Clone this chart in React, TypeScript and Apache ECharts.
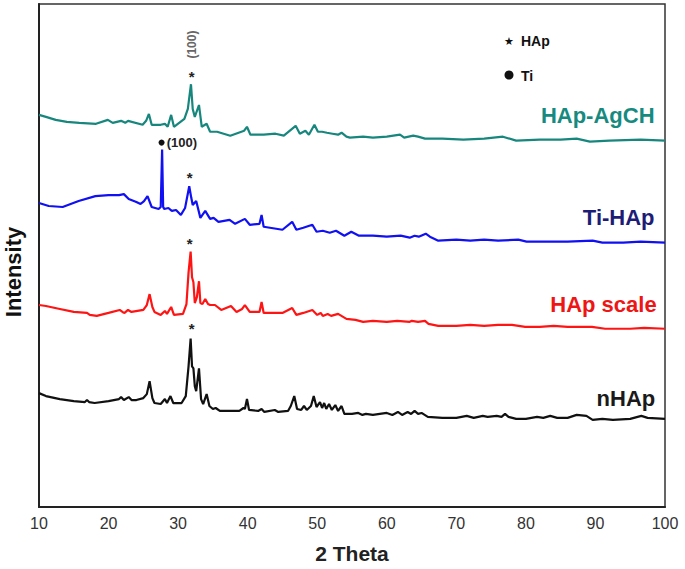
import React, { useEffect, useRef } from "react";
import * as echarts from "echarts";

// 2-theta range
const xTicks = [10, 20, 30, 40, 50, 60, 70, 80, 90, 100];

// Intensity (a.u., stacked offsets included), [2θ, intensity]
const nHAp: number[][] = [
  [10, 115], [11, 112], [13, 109], [15, 107], [16.6, 106], [16.9, 108], [17.2, 106], [18, 105], [20, 107],
  [21.5, 109], [21.8, 111], [22.2, 108], [22.9, 111], [23.3, 108], [24, 108], [25, 110], [25.5, 114],
  [25.9, 127], [26.3, 110], [26.6, 105], [27.5, 104], [28.1, 109], [28.4, 105], [28.9, 112], [29.3, 105],
  [30.5, 105], [31.1, 112], [31.5, 142], [31.8, 170], [32.0, 142], [32.2, 140], [32.4, 122], [32.6, 117],
  [33.0, 140], [33.3, 109], [33.6, 104], [34.1, 114], [34.5, 102], [35, 99], [35.4, 100], [36, 97],
  [38.8, 97], [39.4, 100], [39.6, 99], [39.9, 109], [40.2, 98], [41.5, 97], [42, 99], [42.4, 96], [43.9, 98],
  [44.4, 96], [45.8, 97], [46.2, 102], [46.7, 112], [47.1, 99], [47.7, 98], [48.1, 102], [48.5, 98],
  [49.1, 102], [49.5, 112], [49.9, 101], [50.4, 106], [50.7, 100], [51, 105], [51.3, 99], [51.7, 104],
  [52.1, 98], [52.6, 103], [53.0, 97], [53.5, 102], [53.9, 94], [55, 94], [55.9, 95], [56.5, 93], [57, 94],
  [58, 93], [59, 94], [60, 95], [60.8, 93], [61.6, 96], [62.2, 93], [63, 96], [63.5, 94], [64, 97],
  [64.5, 94], [65, 95], [65.9, 91], [68, 90], [70, 90], [71.5, 92], [72.5, 90], [73.8, 92], [74.5, 91],
  [75.8, 92], [76.5, 91], [77, 94], [77.5, 91], [78.6, 89], [80, 89], [81.6, 91], [82.5, 90], [83.5, 92],
  [84.5, 90], [86, 90], [87.3, 93], [88.7, 92], [89.6, 88], [91, 89], [92.5, 88], [95, 89], [96.6, 92],
  [97.5, 90], [100, 89],
];

const hapScale: number[][] = [
  [10, 204], [11, 203], [13, 200], [15, 197], [16.9, 196], [17.3, 194], [18.3, 193], [20, 196], [21.6, 199],
  [22, 197], [22.3, 196], [22.8, 199], [23.3, 197], [25, 199], [25.5, 204], [25.9, 215], [26.3, 202],
  [26.6, 197], [27.5, 194], [28.1, 198], [28.4, 195], [29.0, 202], [29.4, 194], [30.7, 195], [31.2, 205],
  [31.5, 237], [31.8, 258], [32.0, 232], [32.2, 227], [32.4, 206], [32.7, 212], [33.0, 228], [33.2, 206],
  [33.5, 205], [33.9, 210], [34.3, 205], [34.6, 204], [35.3, 204], [36.2, 199], [37.6, 203], [38.4, 197],
  [39.2, 200], [39.6, 204], [40.3, 197], [41.7, 197], [42.0, 207], [42.3, 196], [45, 196], [46.4, 201],
  [47, 194], [48, 196], [49.3, 199], [50, 194], [50.5, 196], [50.8, 193], [51.5, 195], [52, 193], [53, 195],
  [54.2, 190], [55.5, 189], [56.6, 187], [58, 188], [60, 187], [61.5, 188], [63.3, 187], [63.6, 188],
  [64.5, 187], [65.5, 188], [66, 185], [67.4, 183], [70, 183], [72, 184], [74, 183], [76, 184], [78, 184],
  [79.9, 182], [82, 182], [84, 183], [86, 182], [88, 182], [89.5, 182], [91.4, 180], [95, 180], [97, 181],
  [100, 180],
];

const tiHAp: number[][] = [
  [10, 307], [11.4, 304], [13.4, 303], [15.7, 309], [18.1, 314], [20, 315], [21.5, 315], [22.2, 316],
  [22.9, 311], [24, 308], [24.6, 306], [25.1, 309], [25.6, 314], [26.2, 303], [27.2, 301], [27.5, 303],
  [27.7, 361], [27.85, 303], [28, 301], [28.6, 302], [29.1, 299], [29.7, 300], [30.4, 295], [31.0, 302],
  [31.6, 324], [31.9, 312], [32.1, 305], [32.6, 309], [33.2, 292], [33.9, 299], [34.6, 291], [35.1, 292],
  [35.8, 288], [37.4, 290], [38.2, 286], [39.6, 291], [40.3, 285], [41.7, 286], [42.0, 295], [42.3, 283],
  [45, 280], [46.4, 288], [47, 280], [48, 282], [49.3, 285], [49.9, 278], [50.8, 279], [51.8, 277],
  [52.7, 279], [53.9, 274], [54.9, 278], [56, 274], [58, 274], [60, 273], [62, 274], [63.3, 272], [64, 274],
  [64.6, 273], [65.6, 276], [66.2, 273], [67.4, 269], [70, 270], [72, 269], [74, 270], [76, 269],
  [78.9, 270], [80.1, 268], [83, 268], [86, 268], [89.6, 269], [91, 267], [94, 267], [96.5, 268], [100, 267],
];

const hapAgCH: number[][] = [
  [10, 396], [11, 394], [12.4, 391], [14, 389], [15.8, 388], [18.2, 387], [19.9, 391], [20.6, 388],
  [21.8, 390], [22.4, 388], [22.8, 390], [24.9, 386], [25.4, 390], [25.8, 397], [26.2, 386], [27.5, 386],
  [28.1, 387], [28.5, 384], [29.0, 396], [29.4, 384], [30.9, 392], [31.4, 402], [31.85, 427], [32.1, 402],
  [32.4, 394], [33.0, 406], [33.4, 384], [34.1, 387], [34.6, 379], [35.6, 379], [37.5, 375], [39.5, 380],
  [39.9, 384], [40.4, 376], [42.3, 376], [44, 377], [45.2, 375], [46.9, 385], [47.5, 377], [48.3, 380],
  [48.8, 376], [49.6, 386], [50.1, 379], [50.7, 379], [51.4, 378], [52.2, 377], [53.0, 376], [53.5, 378],
  [54.2, 374], [54.7, 373], [56.6, 374], [58, 373], [60, 374], [61.9, 376], [62.5, 373], [63.8, 375],
  [64.5, 374], [65.5, 372], [68, 372], [71, 371], [74, 372], [76.7, 374], [78.6, 370], [82, 371], [85, 371],
  [87.3, 372], [89.2, 369], [92, 370], [96.5, 371], [100, 370],
];

const seriesNames = ["nHAp", "HAp scale", "Ti-HAp", "HAp-AgCH"];
const lineColors = ["#111111", "#ff1414", "#1010f2", "#17877e"];
const labelColors = ["#1a1a1a", "#ee1515", "#1d1d78", "#178a80"];
// label anchor [2θ, intensity] for series names (right-aligned)
const nameAnchors: number[][] = [[98.6, 110], [98.8, 205], [98.5, 292], [98.5, 395]];
// star (*) annotation positions over the main HAp peak
const starAnchors: number[][] = [[31.95, 180], [31.65, 266], [31.65, 333], [31.95, 435]];

const FONT = "'Liberation Sans', Arial, Helvetica, sans-serif";

export default function App() {
  const ref = useRef<HTMLDivElement>(null);
  useEffect(() => {
    if (!ref.current) return;
    const chart = echarts.init(ref.current, undefined, { renderer: "svg" });
    const datas = [nHAp, hapScale, tiHAp, hapAgCH];

    const series: any[] = datas.map((d, i) => {
      const mpData: any[] = [
        {
          coord: nameAnchors[i],
          symbolSize: 0,
          label: {
            show: true,
            formatter: seriesNames[i],
            position: "left",
            distance: 0,
            color: labelColors[i],
            fontSize: 22,
            fontWeight: "bold",
            fontFamily: FONT,
          },
        },
        {
          coord: starAnchors[i],
          symbolSize: 0,
          label: {
            show: true,
            formatter: "*",
            position: "inside",
            color: "#222",
            fontSize: 15,
            fontWeight: "bold",
            fontFamily: FONT,
          },
        },
      ];
      if (i === 3) {
        mpData.push({
          coord: [31.95, 467],
          symbolSize: 0,
          label: {
            show: true,
            formatter: "(100)",
            position: "inside",
            rotate: 90,
            color: "#666",
            fontSize: 12,
            fontWeight: "bold",
            fontFamily: FONT,
          },
        });
      }
      if (i === 2) {
        mpData.push({
          coord: [27.62, 368],
          symbol: "circle",
          symbolSize: 6,
          itemStyle: { color: "#111" },
          label: { show: false },
        });
        mpData.push({
          coord: [28.35, 368],
          symbolSize: 0,
          label: {
            show: true,
            formatter: "(100)",
            position: "right",
            distance: 0,
            color: "#222",
            fontSize: 13,
            fontWeight: "bold",
            fontFamily: FONT,
          },
        });
      }
      return {
        name: seriesNames[i],
        type: "line",
        data: d,
        showSymbol: false,
        symbol: "none",
        lineStyle: { color: lineColors[i], width: 2.2 },
        itemStyle: { color: lineColors[i] },
        markPoint: { silent: true, symbol: "circle", data: mpData },
      };
    });

    chart.setOption({
      animation: false,
      backgroundColor: "#ffffff",
      grid: {
        left: 39,
        right: 20,
        top: 4,
        bottom: 57,
        show: true,
        borderColor: "#333",
        borderWidth: 1.5,
        backgroundColor: "transparent",
      },
      xAxis: {
        type: "value",
        min: xTicks[0],
        max: xTicks[xTicks.length - 1],
        interval: 10,
        name: "2 Theta",
        nameLocation: "middle",
        nameGap: 36,
        nameTextStyle: { fontSize: 21, fontWeight: "bold", color: "#222", fontFamily: FONT },
        axisLine: { show: true, lineStyle: { color: "#222", width: 2 } },
        axisTick: { show: false },
        splitLine: { show: false },
        axisLabel: { fontSize: 16, color: "#333", margin: 8, fontFamily: FONT },
      },
      yAxis: {
        type: "value",
        min: 0,
        max: 508,
        axisLine: { show: true, lineStyle: { color: "#222", width: 2 } },
        axisTick: { show: false },
        axisLabel: { show: false },
        splitLine: { show: false },
      },
      graphic: [
        {
          type: "text",
          x: 13,
          y: 272,
          rotation: Math.PI / 2,
          style: {
            text: "Intensity",
            fontSize: 22,
            fontWeight: "bold",
            fill: "#111",
            fontFamily: FONT,
            align: "center",
            verticalAlign: "middle",
          },
        },
        {
          type: "text",
          x: 509,
          y: 41,
          style: {
            text: "★",
            fontSize: 11,
            fill: "#111",
            fontFamily: "'DejaVu Sans', sans-serif",
            align: "center",
            verticalAlign: "middle",
          },
        },
        {
          type: "text",
          x: 521,
          y: 41,
          style: {
            text: "HAp",
            fontSize: 14,
            fontWeight: "bold",
            fill: "#111",
            fontFamily: FONT,
            align: "left",
            verticalAlign: "middle",
          },
        },
        {
          type: "circle",
          shape: { cx: 509, cy: 75, r: 4.5 },
          style: { fill: "#111" },
        },
        {
          type: "text",
          x: 521,
          y: 76,
          style: {
            text: "Ti",
            fontSize: 14,
            fontWeight: "bold",
            fill: "#111",
            fontFamily: FONT,
            align: "left",
            verticalAlign: "middle",
          },
        },
      ],
      series,
    });
    return () => chart.dispose();
  }, []);
  return (
    <div
      ref={ref}
      style={{ position: "fixed", left: 0, top: 0, width: 685, height: 569, background: "#fff" }}
    />
  );
}
